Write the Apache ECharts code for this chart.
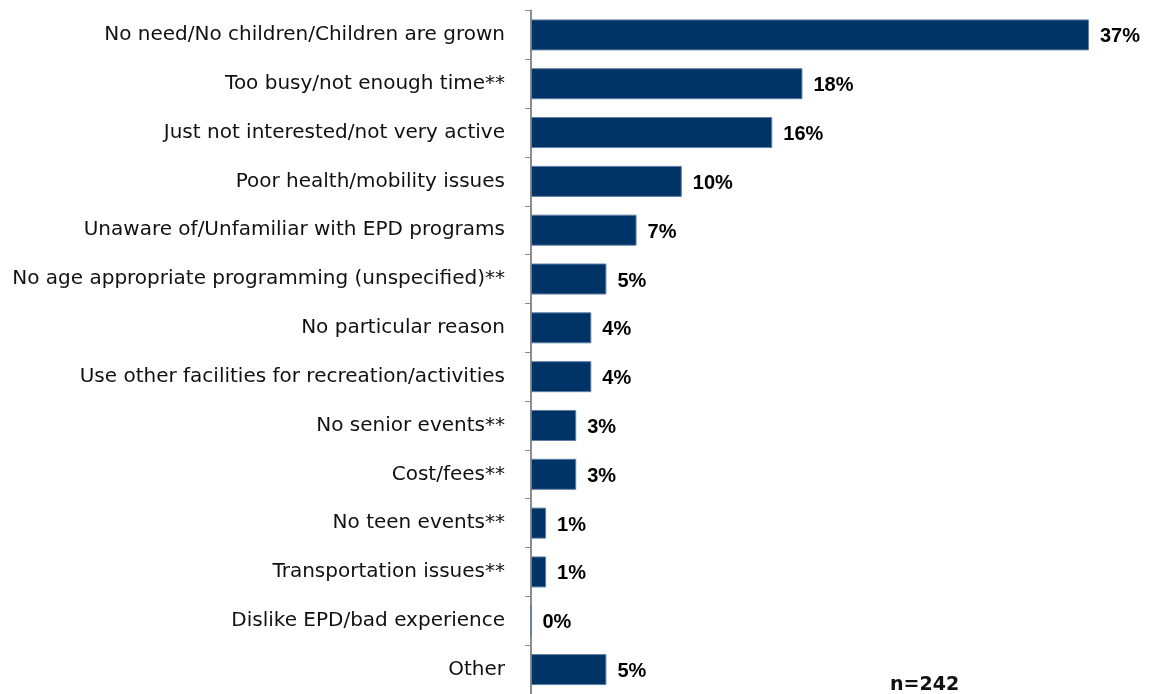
<!DOCTYPE html>
<html><head><meta charset="utf-8">
<script src="https://cdn.jsdelivr.net/npm/echarts@6/dist/echarts.min.js"></script>
<style>html,body{margin:0;padding:0;background:#fff}#c{width:1157px;height:694px}</style>
</head><body><div id="c"></div>
<script>
const categories = [
  "No need/No children/Children are grown",
  "Too busy/not enough time**",
  "Just not interested/not very active",
  "Poor health/mobility issues",
  "Unaware of/Unfamiliar with EPD programs",
  "No age appropriate programming (unspecified)**",
  "No particular reason",
  "Use other facilities for recreation/activities",
  "No senior events**",
  "Cost/fees**",
  "No teen events**",
  "Transportation issues**",
  "Dislike EPD/bad experience",
  "Other"
];
const values = [37, 18, 16, 10, 7, 5, 4, 4, 3, 3, 1, 1, 0, 5];
const sampleNote = "n=242";

const chart = echarts.init(document.getElementById('c'));
chart.setOption({
  animation: false,
  grid: { left: 531, top: 10.5, width: 603.2, height: 686, containLabel: false },
  xAxis: { type: 'value', min: 0, max: 40, show: false },
  yAxis: {
    type: 'category', inverse: true, data: categories,
    axisLine: { show: true, lineStyle: { color: '#8c8c8c', width: 2 } },
    axisTick: { show: true, length: 6, lineStyle: { color: '#8c8c8c' } },
    axisLabel: { color: '#111', fontFamily: 'DejaVu Sans', fontSize: 20, margin: 26 }
  },
  series: [{
    type: 'bar', data: values, barWidth: 31,
    itemStyle: { color: '#003366', borderColor: '#5f7fa6', borderWidth: 1 },
    label: { show: true, position: 'right', distance: 11, offset: [0, 2], formatter: '{c}%',
      fontFamily: 'Liberation Sans', fontWeight: 'bold', fontSize: 20, color: '#000' }
  }],
  graphic: [{ type: 'text', left: 890, top: 676,
    style: { text: sampleNote, fontFamily: 'DejaVu Sans', fontWeight: 'bold', fontSize: 19, fill: '#111' } }]
});
</script></body></html>
